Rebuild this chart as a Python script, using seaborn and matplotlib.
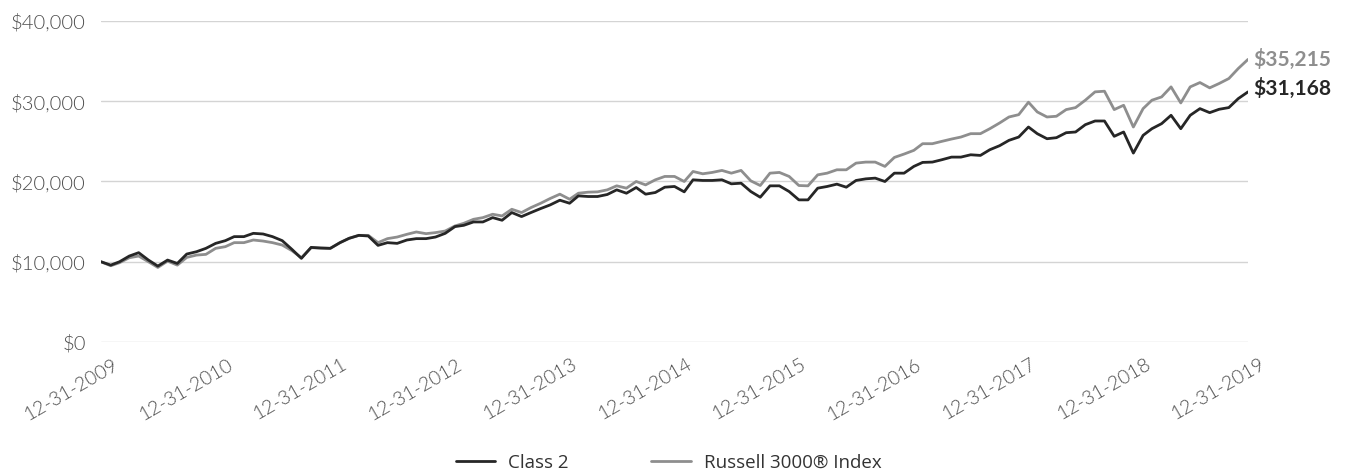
import numpy as np
import pandas as pd
import matplotlib
matplotlib.use("Agg")
import matplotlib.pyplot as plt
import matplotlib.transforms as mtransforms
from matplotlib.lines import Line2D
import seaborn as sns

# ---- data -------------------------------------------------------------
start_date = "2009-12-31"
n_months = 121
series_names = ["Class 2", "Russell 3000\u00ae Index"]
class2 = [
    10000, 9580, 10000, 10710, 11130, 10210, 9460, 10210, 9790, 10960,
    11250, 11670, 12290, 12630, 13130, 13130, 13540, 13460, 13130, 12630,
    11540, 10420, 11790, 11710, 11670, 12380, 12920, 13290, 13210, 12040,
    12380, 12290, 12710, 12880, 12880, 13080, 13540, 14380, 14540, 14960,
    14960, 15500, 15170, 16130, 15630, 16130, 16630, 17080, 17670, 17290,
    18210, 18130, 18130, 18380, 18960, 18540, 19250, 18420, 18630, 19290,
    19380, 18710, 20210, 20130, 20130, 20210, 19710, 19790, 18750, 18040,
    19460, 19460, 18750, 17710, 17710, 19170, 19380, 19670, 19290, 20130,
    20330, 20420, 20000, 21040, 21040, 21880, 22380, 22420, 22710, 23040,
    23040, 23330, 23250, 23960, 24460, 25130, 25540, 26790, 25960, 25330,
    25460, 26080, 26170, 27080, 27540, 27540, 25630, 26170, 23540, 25750,
    26580, 27210, 28250, 26580, 28250, 29080, 28580, 29000, 29210, 30330,
    31168,
]
russell = [
    10000, 9500, 9880, 10500, 10710, 10000, 9290, 10080, 9580, 10540,
    10830, 10920, 11670, 11880, 12380, 12380, 12710, 12580, 12380, 12080,
    11380, 10500, 11750, 11710, 11670, 12380, 12920, 13290, 13290, 12380,
    12880, 13080, 13420, 13710, 13500, 13630, 13830, 14460, 14790, 15290,
    15500, 15920, 15710, 16540, 16130, 16750, 17290, 17880, 18420, 17790,
    18540, 18670, 18710, 18960, 19460, 19170, 20000, 19580, 20210, 20630,
    20630, 20000, 21250, 20960, 21130, 21380, 21040, 21380, 20080, 19500,
    21040, 21130, 20630, 19500, 19460, 20830, 21040, 21460, 21460, 22290,
    22420, 22420, 21880, 23000, 23420, 23880, 24710, 24710, 25000, 25290,
    25540, 25960, 25960, 26580, 27290, 28040, 28330, 29880, 28670, 28040,
    28130, 28960, 29210, 30130, 31170, 31250, 28960, 29500, 26790, 29080,
    30130, 30540, 31790, 29790, 31790, 32330, 31670, 32210, 32830, 34080,
    35215,
]
y_ticks = [0, 10000, 20000, 30000, 40000]
y_tick_labels = ["$0", "$10,000", "$20,000", "$30,000", "$40,000"]
line_colors = ["#262626", "#8e8e8e"]

dates = pd.date_range(start_date, periods=n_months, freq="ME")
df = pd.DataFrame({
    "date": np.concatenate([dates, dates]),
    "value": class2 + russell,
    "series": [series_names[0]] * n_months + [series_names[1]] * n_months,
})
tick_dates = dates[::12]

# ---- figure -----------------------------------------------------------
sns.set_theme(style="white")
plt.rcParams["font.family"] = ["Lato", "DejaVu Sans"]

fig = plt.figure(figsize=(13.48, 4.75), dpi=100)
ax = fig.add_axes([101 / 1348, 1 - 342 / 475, (1248 - 101) / 1348, (342 - 21) / 475])

palette = dict(zip(series_names, line_colors))
sns.lineplot(data=df, x="date", y="value", hue="series", palette=palette,
             hue_order=series_names[::-1], linewidth=2.0, ax=ax, legend=False)

ax.set_xlim(dates[0], dates[-1])
ax.set_ylim(0, 40000)
ax.set_yticks(y_ticks)
ax.set_yticklabels(y_tick_labels)
ax.set_xticks(tick_dates)
ax.set_xticklabels([d.strftime("%m-%d-%Y") for d in tick_dates])
ax.set_xlabel("")
ax.set_ylabel("")

ax.grid(axis="y", color="#d4d4d4", linewidth=1.0)
ax.grid(axis="x", visible=False)
for s in ax.spines.values():
    s.set_visible(False)
ax.tick_params(axis="y", length=0, pad=11, labelsize=14.5, labelcolor="#4d4d4d")
ax.tick_params(axis="x", length=0, pad=10, labelsize=14, labelcolor="#4d4d4d")
for lbl in ax.get_yticklabels():
    lbl.set_fontweight(300)

offset = mtransforms.ScaledTranslation(11 / 100, 0, fig.dpi_scale_trans)
for lbl in ax.get_xticklabels():
    lbl.set_rotation(30)
    lbl.set_ha("right")
    lbl.set_va("top")
    lbl.set_rotation_mode("anchor")
    lbl.set_fontweight(300)
    lbl.set_transform(lbl.get_transform() + offset)

# end labels
end_offset = mtransforms.ScaledTranslation(5 / 100, 0, fig.dpi_scale_trans)
ax.text(dates[-1], russell[-1], f"${russell[-1]:,}", color=line_colors[1],
        fontsize=15, fontweight="bold", va="center", ha="left",
        transform=ax.transData + end_offset, clip_on=False)
ax.text(dates[-1], class2[-1] + 400, f"${class2[-1]:,}", color=line_colors[0],
        fontsize=15, fontweight="bold", va="center", ha="left",
        transform=ax.transData + end_offset, clip_on=False)

# legend
handles = [Line2D([0], [0], color=c, linewidth=2.0) for c in line_colors]
fig.legend(handles, series_names, loc="center", bbox_to_anchor=(0.496, 1 - 463 / 475),
           ncol=2, frameon=False, handlelength=2.1,
           columnspacing=4.4, handletextpad=0.7,
           prop={"family": ["Open Sans", "DejaVu Sans"], "size": 13.5})
for t in fig.legends[0].get_texts():
    t.set_color("#333333")

fig.savefig("out.png", dpi=100)
